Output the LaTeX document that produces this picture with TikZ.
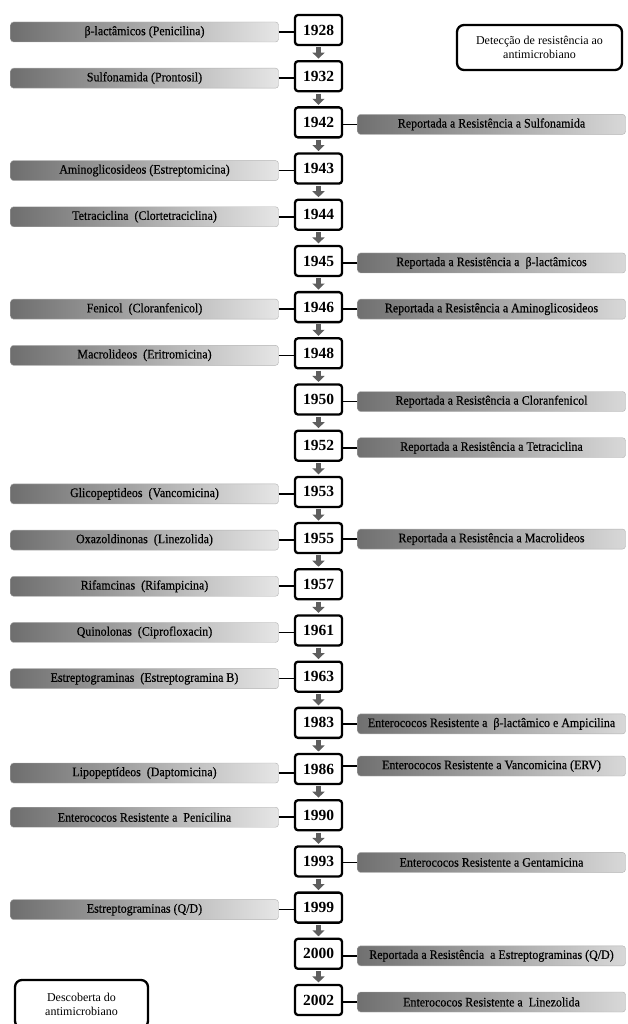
\documentclass[tikz,border=0pt]{standalone}
\usepackage{fontspec}
\setmainfont{Liberation Serif}
\newfontfamily\barfont[FakeStretch=0.92,FakeBold=0.4]{Liberation Serif}
\usetikzlibrary{arrows.meta}
\definecolor{bardark}{HTML}{6E6E6E}
\definecolor{barlight}{HTML}{E6E6E6}
\definecolor{rbardark}{HTML}{707070}
\definecolor{rbarlight}{HTML}{D8D8D8}
\definecolor{arrowgray}{HTML}{5E5E5E}
\tikzset{
  yearbox/.style={draw=black, line width=2.3pt, rounded corners=3pt, fill=white,
    minimum width=47pt, minimum height=30pt, inner sep=0pt,
    font=\fontsize{15.5}{16}\selectfont\bfseries},
  lbar/.style={rounded corners=3pt, left color=bardark, right color=barlight,
    draw=gray!60, line width=0.4pt, minimum width=268pt, minimum height=20pt,
    inner sep=0pt, font=\barfont\fontsize{13}{14}\selectfont},
  rbar/.style={rounded corners=3pt, left color=rbardark, right color=rbarlight,
    draw=gray!60, line width=0.4pt, minimum width=268pt, minimum height=20pt,
    inner sep=0pt, font=\barfont\fontsize{13}{14}\selectfont},
  legendbox/.style={draw=black, line width=2.3pt, rounded corners=7pt, fill=white,
    inner sep=0pt, align=center, font=\fontsize{12}{14}\selectfont},
  conn/.style={draw=black, line width=1.6pt},
  downarrow/.style={draw=arrowgray, line width=5pt,
    -{Triangle[width=12pt,length=6pt]}, arrowgray,
    shorten <=1.2pt, shorten >=1.4pt}
}
\begin{document}
\begin{tikzpicture}[x=1pt,y=-1pt]
\fill[white] (0,0) rectangle (627,1024);
\useasboundingbox (0,0) rectangle (627,1024);
\begin{scope}
\clip (0,0) rectangle (627,1024);
% year boxes
\foreach \yr [count=\i from 0] in {1928,1932,1942,1943,1944,1945,1946,1948,1950,1952,1953,1955,1957,1961,1963,1983,1986,1990,1993,1999,2000,2002}
  \node[yearbox] (Y\i) at (318.5,{30+46.19*\i}) {\yr};
% arrows between years
\foreach \i [evaluate=\i as \j using int(\i+1)] in {0,...,20}
  \draw[downarrow] (Y\i.south) -- (Y\j.north);
% left bars (discovery)
\node[lbar] (L0)  at (144.5,{32+46.19*0})  {β-lactâmicos (Penicilina)};
\node[lbar] (L1)  at (144.5,{32+46.19*1})  {Sulfonamida (Prontosil)};
\node[lbar] (L3)  at (144.5,{32+46.19*3})  {Aminoglicosideos (Estreptomicina)};
\node[lbar] (L4)  at (144.5,{32+46.19*4})  {Tetraciclina\ \ (Clortetraciclina)};
\node[lbar] (L6)  at (144.5,{32+46.19*6})  {Fenicol\ \ (Cloranfenicol)};
\node[lbar] (L7)  at (144.5,{32+46.19*7})  {Macrolideos\ \ (Eritromicina)};
\node[lbar] (L10) at (144.5,{32+46.19*10}) {Glicopeptideos\ \ (Vancomicina)};
\node[lbar] (L11) at (144.5,{32+46.19*11}) {Oxazoldinonas\ \ (Linezolida)};
\node[lbar] (L12) at (144.5,{32+46.19*12}) {Rifamcinas\ \ (Rifampicina)};
\node[lbar] (L13) at (144.5,{32+46.19*13}) {Quinolonas\ \ (Ciprofloxacin)};
\node[lbar] (L14) at (144.5,{32+46.19*14}) {Estreptograminas\ \ (Estreptogramina B)};
\node[lbar] (L16) at (144.5,{34+46.19*16}) {Lipopeptídeos\ \ (Daptomicina)};
\node[lbar] (L17) at (144.5,{32+46.19*17}) {Enterococos Resistente a\ \ Penicilina};
\node[lbar] (L19) at (144.5,{32+46.19*19}) {Estreptograminas (Q/D)};
\foreach \i in {0,1,3,4,6,7,10,11,12,13,14,16,17,19}
  \draw[conn] (L\i.east) -- (L\i.east -| Y\i.west);
% right bars (resistance)
\node[rbar] (R2)  at (491.5,{32+46.19*2})  {Reportada a Resistência a Sulfonamida};
\node[rbar] (R5)  at (491.5,{32+46.19*5})  {Reportada a Resistência a\ \ β-lactâmicos};
\node[rbar] (R6)  at (491.5,{32+46.19*6})  {Reportada a Resistência a Aminoglicosideos};
\node[rbar] (R8)  at (491.5,{32+46.19*8})  {Reportada a Resistência a Cloranfenicol};
\node[rbar] (R9)  at (491.5,{32+46.19*9})  {Reportada a Resistência a Tetraciclina};
\node[rbar] (R11) at (491.5,{31+46.19*11}) {Reportada a Resistência a Macrolideos};
\node[rbar] (R15) at (491.5,{31+46.19*15}) {Enterococos Resistente a\ \ β-lactâmico e Ampicilina};
\node[rbar] (R16) at (491.5,{27+46.19*16}) {Enterococos Resistente a Vancomicina (ERV)};
\node[rbar] (R18) at (491.5,{31+46.19*18}) {Enterococos Resistente a Gentamicina};
\node[rbar] (R20) at (491.5,{32+46.19*20}) {Reportada a Resistência\ \ a Estreptograminas (Q/D)};
\node[rbar] (R21) at (491.5,{32+46.19*21}) {Enterococos Resistente a\ \ Linezolida};
\foreach \i in {2,5,6,8,9,11,15,16,18,20,21}
  \draw[conn] (R\i.west) -- (R\i.west -| Y\i.east);
% legend boxes
\node[legendbox, minimum width=165pt, minimum height=45pt] (legR) at (539.5,47.5)
  {Detecção de resistência ao\\antimicrobiano};
\node[legendbox, minimum width=133pt, minimum height=48pt] (legL) at (81.5,1004)
  {Descoberta do\\antimicrobiano};
\end{scope}
\end{tikzpicture}
\end{document}
